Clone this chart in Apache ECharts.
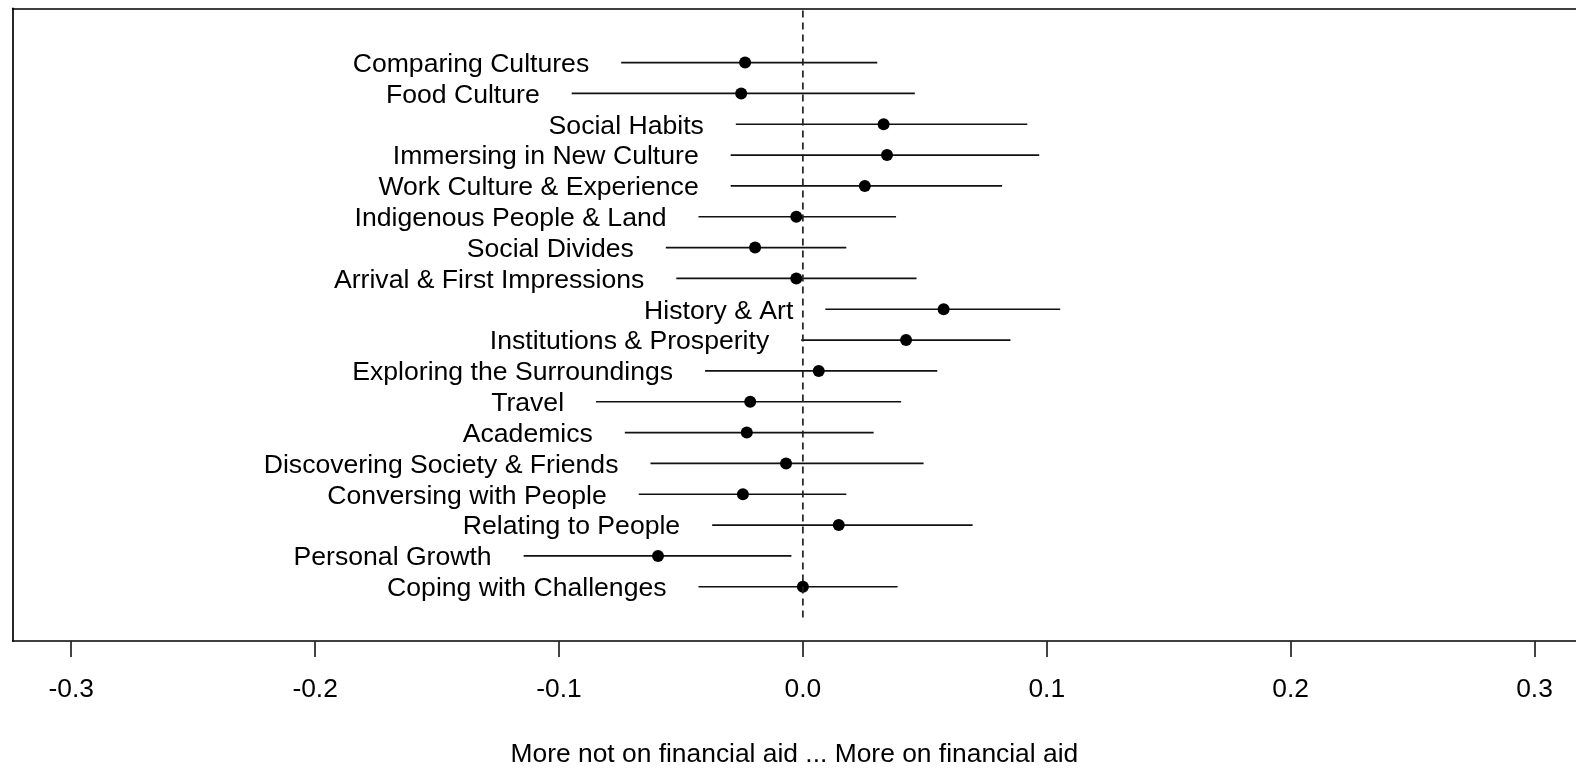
<!DOCTYPE html>
<html>
<head>
<meta charset="utf-8">
<script src="https://cdn.jsdelivr.net/npm/echarts@6/dist/echarts.min.js"></script>
<style>
html,body{margin:0;padding:0;background:#fff;}
#chart{width:1576px;height:773px;}
</style>
</head>
<body>
<div id="chart"></div>
<script>
// Categories from top (row 18) to bottom (row 1)
var categories = [
  "Comparing Cultures","Food Culture","Social Habits","Immersing in New Culture",
  "Work Culture & Experience","Indigenous People & Land","Social Divides",
  "Arrival & First Impressions","History & Art","Institutions & Prosperity",
  "Exploring the Surroundings","Travel","Academics","Discovering Society & Friends",
  "Conversing with People","Relating to People","Personal Growth","Coping with Challenges"
];
var estimates = [-0.0237,-0.0253,0.0331,0.0345,0.0254,-0.0027,-0.0196,-0.0027,0.0577,
                 0.0423,0.0065,-0.0216,-0.0230,-0.0069,-0.0246,0.0147,-0.0594,0.0000];
var lowers    = [-0.0745,-0.0948,-0.0275,-0.0296,-0.0296,-0.0428,-0.0562,-0.0519,0.0092,
                 -0.0007,-0.0401,-0.0848,-0.0730,-0.0625,-0.0673,-0.0372,-0.1145,-0.0428];
var uppers    = [0.0305,0.0459,0.0920,0.0969,0.0817,0.0382,0.0178,0.0466,0.1055,
                 0.0851,0.0551,0.0403,0.0290,0.0495,0.0178,0.0696,-0.0047,0.0388];
var xTicks = [-0.3,-0.2,-0.1,0,0.1,0.2,0.3];
var xTitle = "More not on financial aid ... More on financial aid";

var FONT = "'Liberation Sans', Arial, sans-serif";
var n = categories.length;
function rowY(i){ return n - i; }

var ciData = [], ptData = [], lblData = [];
for (var i = 0; i < n; i++) {
  ciData.push([lowers[i], uppers[i], rowY(i)]);
  ptData.push([estimates[i], rowY(i)]);
  lblData.push({value:[lowers[i], rowY(i)], name: categories[i]});
}

var chart = echarts.init(document.getElementById('chart'), null, {renderer:'canvas'});
chart.setOption({
  backgroundColor: '#fff',
  animation: false,
  grid: {left: 12.7, top: 8.3, right: 0, height: 633.4, containLabel: false},
  xAxis: [{
    type: 'value', min: -0.324, max: 0.317, position: 'bottom',
    axisLine: {show: true, onZero: false, lineStyle: {color: '#000', width: 1.7}},
    axisTick: {show: true, customValues: xTicks, length: 16, inside: false, lineStyle: {color: '#222', width: 1.7}},
    axisLabel: {show: true, customValues: xTicks, margin: 36, color: '#000', fontSize: 26.4, fontFamily: FONT,
      formatter: function(v){ return (Math.abs(v) < 1e-9 ? 0 : v).toFixed(1); }},
    splitLine: {show: false},
    name: xTitle, nameLocation: 'middle', nameGap: 101, nameMoveOverlap: false,
    nameTextStyle: {color: '#000', fontSize: 26.4, fontFamily: FONT}
  }, {
    type: 'value', min: -0.324, max: 0.317, position: 'top',
    axisLine: {show: true, onZero: false, lineStyle: {color: '#000', width: 1.7}},
    axisTick: {show: false}, axisLabel: {show: false}, splitLine: {show: false}
  }],
  yAxis: [{
    type: 'value', min: -0.76, max: 19.76,
    axisLine: {show: true, onZero: false, lineStyle: {color: '#000', width: 1.7}},
    axisTick: {show: false}, axisLabel: {show: false}, splitLine: {show: false}
  }],
  series: [{
    type: 'line', xAxisIndex: 0, data: [[0, 0], [0, 19.76]], symbol: 'none', silent: true,
    lineStyle: {color: '#222', width: 1.7, type: [7, 5]}
  }, {
    type: 'custom', xAxisIndex: 0, data: ciData, silent: true,
    renderItem: function(params, api){
      var a = api.coord([api.value(0), api.value(2)]);
      var b = api.coord([api.value(1), api.value(2)]);
      return {type: 'line', shape: {x1: a[0], y1: a[1], x2: b[0], y2: b[1]},
              style: {stroke: '#111', lineWidth: 1.7}};
    }
  }, {
    type: 'scatter', xAxisIndex: 0, data: ptData, symbol: 'circle', symbolSize: 12, silent: true,
    itemStyle: {color: '#000', opacity: 1}
  }, {
    type: 'scatter', xAxisIndex: 0, data: lblData, symbolSize: 0, silent: true,
    itemStyle: {color: '#000', opacity: 1},
    label: {show: true, position: 'left', distance: 32, offset: [0, 2], color: '#000', fontSize: 26.6, fontFamily: FONT,
      formatter: function(p){ return p.name; }}
  }]
});
</script>
</body>
</html>
